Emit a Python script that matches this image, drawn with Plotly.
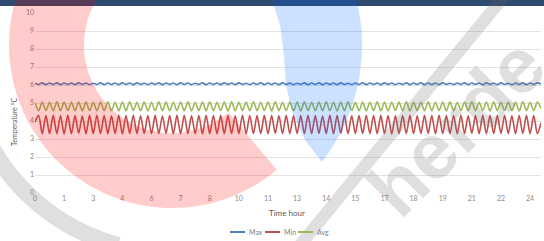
import numpy as np
import plotly.graph_objects as go

# ---------------- data ----------------
tick_labels = ["0", "1", "3", "4", "6", "7", "8", "10", "11", "13", "14", "15", "17", "18", "19", "21", "22", "24"]

max_vals = [
    6.10, 6.03, 6.12, 6.02, 6.11, 6.03, 6.12, 6.02, 6.11, 6.03,
    6.11, 6.02, 6.12, 6.03, 6.11, 6.02, 6.10, 6.03, 6.12, 6.02,
    6.11, 6.03, 6.11, 6.02, 6.12, 6.03, 6.11, 6.02, 6.12, 6.03,
    6.10, 6.02, 6.11, 6.03, 6.12, 6.02, 6.11, 6.03, 6.11, 6.02,
    6.12, 6.03, 6.11, 6.02, 6.10, 6.03, 6.12, 6.02, 6.11, 6.03,
    6.11, 6.02, 6.12, 6.03, 6.11, 6.02, 6.12, 6.03, 6.10, 6.02,
    6.11, 6.03, 6.12, 6.02, 6.11, 6.03, 6.11, 6.02, 6.12, 6.03,
    6.11, 6.02, 6.10, 6.03, 6.12, 6.02, 6.11, 6.03, 6.12, 6.02,
    6.11, 6.03, 6.11, 6.02, 6.12, 6.03, 6.10, 6.02, 6.11, 6.03,
    6.12, 6.02, 6.11, 6.03, 6.11, 6.02, 6.12, 6.03, 6.11, 6.02,
    6.10, 6.03, 6.12, 6.02, 6.11, 6.03, 6.12, 6.02, 6.11, 6.03,
    6.11, 6.02, 6.12, 6.03, 6.10, 6.02, 6.11, 6.03, 6.12, 6.02,
    6.11, 6.03, 6.11, 6.02, 6.12, 6.03, 6.11, 6.02, 6.12, 6.03,
    6.10, 6.02, 6.11, 6.03, 6.12, 6.02, 6.11, 6.03, 6.12, 6.06,
]

min_vals = [
    3.95, 4.31, 3.29, 4.30, 3.31, 4.32, 3.30, 4.29, 3.28, 4.31,
    3.30, 4.30, 3.32, 4.28, 3.29, 4.31, 3.30, 4.32, 3.31, 4.30,
    3.29, 4.29, 3.30, 4.31, 3.28, 4.30, 3.31, 4.32, 3.30, 4.29,
    3.31, 4.30, 3.29, 4.31, 3.30, 4.28, 3.32, 4.30, 3.29, 4.31,
    3.30, 4.32, 3.31, 4.29, 3.30, 4.30, 3.28, 4.31, 3.30, 4.30,
    3.29, 4.31, 3.30, 4.30, 3.31, 4.29, 3.30, 4.32, 3.29, 4.30,
    3.31, 4.30, 3.30, 4.31, 3.29, 4.30, 3.32, 4.29, 3.30, 4.31,
    3.30, 4.29, 3.31, 4.30, 3.30, 4.32, 3.29, 4.30, 3.31, 4.28,
    3.30, 4.31, 3.29, 4.30, 3.32, 4.31, 3.30, 4.29, 3.30, 4.30,
    3.31, 4.32, 3.30, 4.30, 3.29, 4.31, 3.30, 4.30, 3.28, 4.29,
    3.30, 4.30, 3.31, 4.31, 3.30, 4.29, 3.31, 4.32, 3.30, 4.30,
    3.29, 4.31, 3.30, 4.30, 3.31, 4.30, 3.29, 4.31, 3.30, 4.29,
    3.32, 4.30, 3.30, 4.31, 3.29, 4.32, 3.30, 4.30, 3.31, 4.31,
    3.30, 4.29, 3.29, 4.30, 3.31, 4.31, 3.30, 4.30, 3.29, 3.90,
]

avg_vals = [
    5.02, 4.57, 5.05, 4.58, 5.04, 4.56, 5.06, 4.57, 5.05, 4.58,
    5.04, 4.57, 5.05, 4.56, 5.06, 4.58, 5.04, 4.57, 5.05, 4.57,
    5.06, 4.58, 5.04, 4.56, 5.05, 4.57, 5.06, 4.58, 5.04, 4.57,
    5.05, 4.56, 5.04, 4.58, 5.06, 4.57, 5.05, 4.57, 5.04, 4.58,
    5.05, 4.57, 5.06, 4.56, 5.04, 4.58, 5.05, 4.57, 5.06, 4.57,
    5.04, 4.58, 5.05, 4.56, 5.06, 4.57, 5.04, 4.58, 5.05, 4.57,
    5.06, 4.57, 5.04, 4.58, 5.05, 4.56, 5.06, 4.57, 5.04, 4.58,
    5.05, 4.57, 5.05, 4.56, 5.06, 4.58, 5.04, 4.57, 5.05, 4.57,
    5.06, 4.58, 5.04, 4.56, 5.05, 4.57, 5.06, 4.58, 5.04, 4.57,
    5.05, 4.56, 5.04, 4.58, 5.06, 4.57, 5.05, 4.57, 5.04, 4.58,
    5.05, 4.57, 5.06, 4.56, 5.04, 4.58, 5.05, 4.57, 5.06, 4.57,
    5.04, 4.58, 5.05, 4.56, 5.06, 4.57, 5.04, 4.58, 5.05, 4.57,
    5.06, 4.57, 5.04, 4.58, 5.05, 4.56, 5.06, 4.57, 5.04, 4.58,
    5.05, 4.57, 5.05, 4.56, 5.06, 4.58, 5.04, 4.57, 5.05, 4.70,
]

series_names = ["Max", "Min", "Avg"]
series_colors = ["#4f81bd", "#c0504d", "#9bbb59"]

# ---------------- layout geometry ----------------
W, H = 544, 241
L, R, T, B = 35, 3, 13, 48
PW, PH = W - L - R, H - T - B
FONT = "Lato, 'Open Sans', sans-serif"


def fx(x):
    return (x - L) / PW


def fy(y):
    return (H - B - y) / PH


def path(pts):
    return "M " + " L ".join(f"{fx(x):.4f},{fy(y):.4f}" for x, y in pts) + " Z"


def arc(cx, cy, r, a0, a1, n=80):
    a = np.radians(np.linspace(a0, a1, n))
    return list(zip(cx + r * np.cos(a), cy + r * np.sin(a)))


n = len(max_vals)
x_idx = list(range(n))
tick_pos = [i * 8 for i in range(len(tick_labels))]

fig = go.Figure()
for name, vals, col in zip(series_names, [max_vals, min_vals, avg_vals], series_colors):
    fig.add_trace(go.Scatter(
        x=x_idx, y=vals, mode="lines", name=name,
        line=dict(color=col, width=1.6, shape="spline", smoothing=0.8),
        showlegend=False,
    ))

shapes = []
# dark title bar at top
shapes.append(dict(type="rect", xref="paper", yref="paper",
                   x0=fx(0), x1=fx(W), y0=fy(6), y1=fy(-2),
                   fillcolor="#2d4a70", line=dict(width=0), layer="above"))

# watermark: red ring
C = (172, 45)
red = arc(C[0], C[1], 163, 235, 50) + arc(C[0], C[1], 88, 50, 235)
shapes.append(dict(type="path", xref="paper", yref="paper", path=path(red),
                   fillcolor="rgba(255,0,0,0.2)", line=dict(width=0), layer="above"))
# watermark: blue crescent
blue = arc(C[0], C[1], 190, -40, 38) + [(305, 140), (293, 115), (286, 85), (284, 55),
                                         (280, 25), (272, 0), (262, -30)]
shapes.append(dict(type="path", xref="paper", yref="paper", path=path(blue),
                   fillcolor="rgba(0,100,255,0.2)", line=dict(width=0), layer="above"))
# watermark: grey outer arc
grey_arc = arc(C[0], C[1], 216, 105, 152) + arc(C[0], C[1], 199, 152, 105)
shapes.append(dict(type="path", xref="paper", yref="paper", path=path(grey_arc),
                   fillcolor="rgba(110,110,110,0.22)", line=dict(width=0), layer="above"))
# watermark: grey diagonal band
band = [(498, -6), (514, -6), (304, 250), (288, 250)]
shapes.append(dict(type="path", xref="paper", yref="paper", path=path(band),
                   fillcolor="rgba(110,110,110,0.22)", line=dict(width=0), layer="above"))

# custom legend
legend_y = 232
legend_items = [(230, 245, 247), (265, 280, 282), (298, 313, 315)]
annotations = []
for (x0, x1, xt), name, col in zip(legend_items, series_names, series_colors):
    shapes.append(dict(type="line", xref="paper", yref="paper",
                       x0=fx(x0), x1=fx(x1), y0=fy(legend_y), y1=fy(legend_y),
                       line=dict(color=col, width=2)))
    annotations.append(dict(xref="paper", yref="paper", x=fx(xt), y=fy(legend_y),
                            text=name, showarrow=False, xanchor="left", yanchor="middle",
                            font=dict(size=7, color="#7f7f7f", family=FONT)))

annotations.append(dict(xref="paper", yref="paper", x=fx(287), y=fy(213), text="Time hour",
                        showarrow=False, xanchor="center", yanchor="middle",
                        font=dict(size=8, color="#595959", family=FONT)))
annotations.append(dict(xref="paper", yref="paper", x=fx(14), y=fy(122), text="Temperature °C",
                        showarrow=False, xanchor="center", yanchor="middle", textangle=-90,
                        font=dict(size=7, color="#595959", family=FONT)))
# watermark text
annotations.append(dict(xref="paper", yref="paper", x=fx(456), y=fy(127), text="<b>herde</b>",
                        showarrow=False, xanchor="center", yanchor="middle", textangle=-45,
                        font=dict(size=78, color="rgba(110,110,110,0.22)",
                                  family="Liberation Sans, Arial, sans-serif")))

fig.update_layout(
    width=W, height=H,
    margin=dict(l=L, r=R, t=T, b=B, pad=0),
    paper_bgcolor="white", plot_bgcolor="white",
    shapes=shapes, annotations=annotations,
    showlegend=False,
    xaxis=dict(range=[0, n - 1], tickmode="array", tickvals=tick_pos, ticktext=tick_labels,
               showgrid=False, zeroline=False, showline=False, ticks="",
               tickfont=dict(size=7, color="#8c8c8c", family=FONT)),
    yaxis=dict(range=[0, 10], dtick=1, showgrid=True, gridcolor="#e3e3e3", gridwidth=1,
               zeroline=False, showline=False, ticks="",
               tickfont=dict(size=7, color="#8c8c8c", family=FONT)),
)

fig.write_html("out.html", config={"displayModeBar": False},
               post_script="document.body.style.margin='0';document.body.style.overflow='hidden';")
